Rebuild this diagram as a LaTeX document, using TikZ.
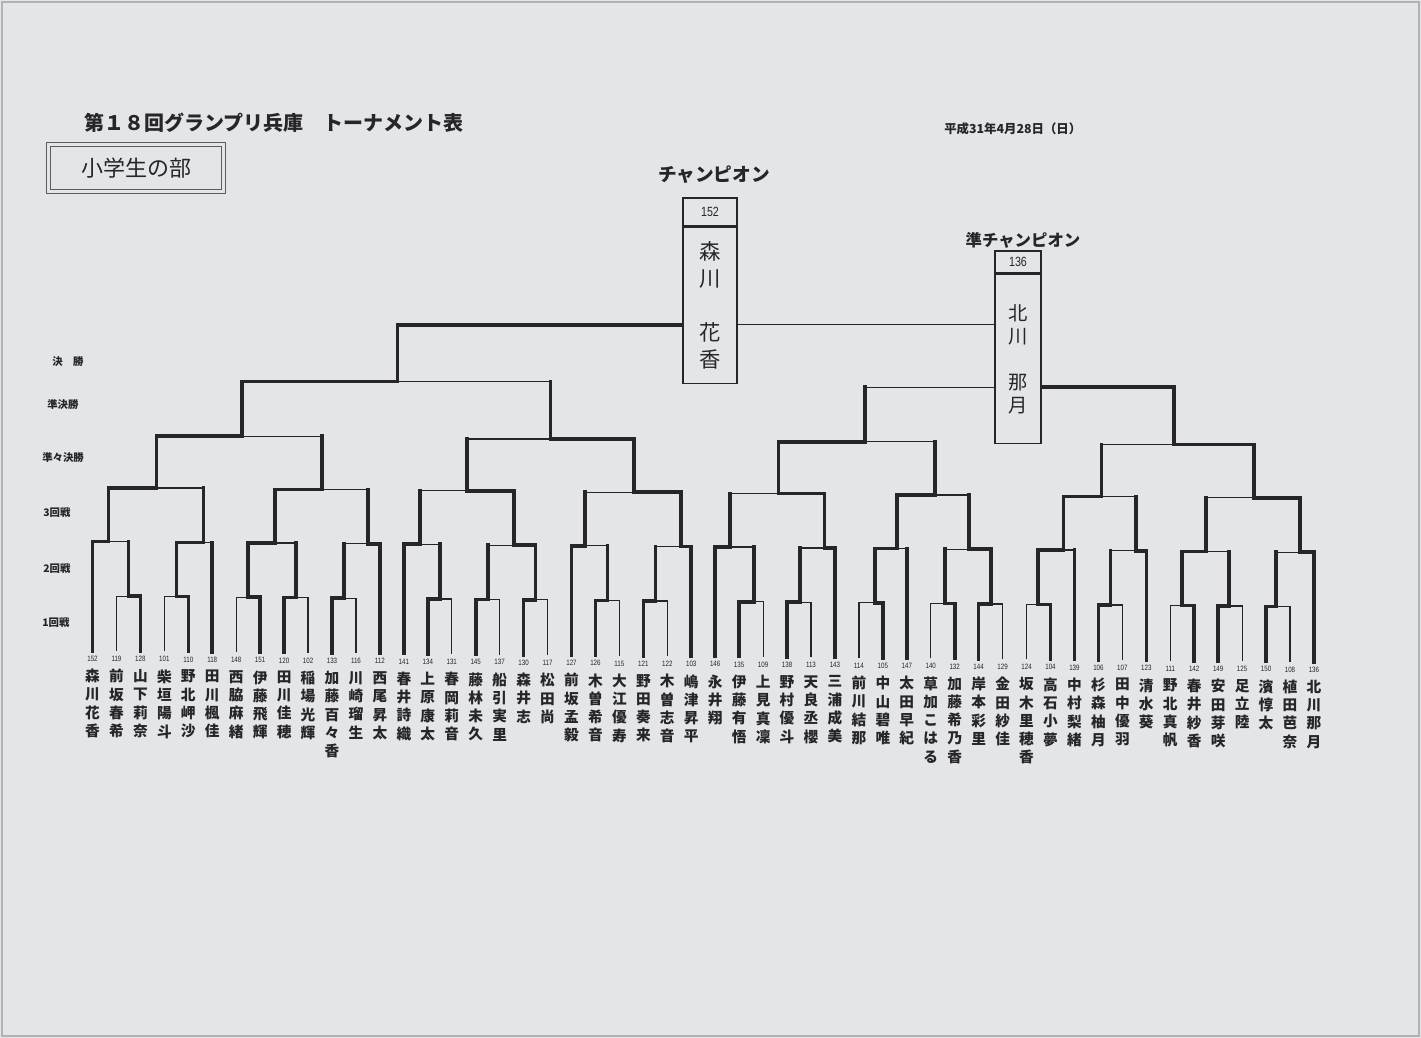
\documentclass[tikz,border=0pt]{standalone}
\usepackage{fontspec}
\setmainfont{Liberation Sans}
\newfontfamily\jp{Noto Sans CJK JP}
\newfontfamily\numfont[FakeStretch=0.8]{Liberation Sans}
\definecolor{paper}{RGB}{227,229,233}
\definecolor{ink}{RGB}{38,38,42}
\tikzset{
  thk/.style={draw=ink, line width=2.7pt, line cap=rect},
  thn/.style={draw=ink, line width=0.9pt},
  numsty/.style={font=\numfont\fontsize{5.8}{6}\selectfont, text=ink, inner sep=0pt},
  namesty/.style={font=\jp\bfseries\fontsize{11}{13.7}\selectfont, text=ink, inner sep=0pt, align=center},
  cellsty/.style={draw=ink, line width=0.9pt, fill=paper, inner sep=0pt, align=center, text=ink},
  lblsty/.style={font=\jp\bfseries\fontsize{7.8}{8}\selectfont, text=ink, inner sep=0pt, anchor=west},
}
\newcommand\edgeW[2]{\draw[thk] (#1) |- (#2);}
\newcommand\edgeLM[2]{\draw[thk] (#1) -- (#1 |- #2); \draw[thn] (#1 |- #2) -- (#2);}
\newcommand\edgeLL[2]{\draw[thn] (#1) |- (#2);}
\newcommand\match[6]{%
  \coordinate (#1) at (#2,{#3+0.009*#2});
  \edgeW{#4}{#1}
  \if#6M\edgeLM{#5}{#1}\else\edgeLL{#5}{#1}\fi
}
\def\lA{595}\def\lB{540.5}\def\lC{486.5}\def\lD{434}\def\lE{378}\def\lF{318.5}
\begin{document}
\begin{tikzpicture}[x=0.75pt,y=-0.75pt]
\useasboundingbox (0,0) rectangle (1421,1038);
\fill[paper] (0,0) rectangle (1421,1038);
\draw[gray!60, line width=1pt] (2,2) rectangle (1419,1036);

% header
\node[anchor=west, font=\jp\bfseries\fontsize{15}{15}\selectfont, text=ink, inner sep=0pt] (title) at (84,123) {第１８回グランプリ兵庫　トーナメント表};
\node[anchor=west, font=\jp\bfseries\fontsize{9.3}{9.3}\selectfont, text=ink, inner sep=0pt] (date) at (944,129) {平成31年4月28日（日）};
\node[draw=ink!75, line width=0.8pt, double=paper, double distance=2pt, fill=paper, minimum width=131pt, minimum height=35.5pt, inner sep=0pt, font=\jp\fontsize{16.5}{16.5}\selectfont, text=ink] (dept) at (136,168) {小学生の部};

% round labels
\node[lblsty] (rF) at (52,362) {決　勝};
\node[lblsty] (rE) at (47,405) {準決勝};
\node[lblsty] (rD) at (42,458) {準々決勝};
\node[lblsty] (rC) at (43,513) {3回戦};
\node[lblsty] (rB) at (43,569) {2回戦};
\node[lblsty] (rA) at (42,623) {1回戦};

% players
\foreach \nb/\nm [count=\i from 0] in {
152/森\\川\\花\\香, 119/前\\坂\\春\\希, 128/山\\下\\莉\\奈, 101/柴\\垣\\陽\\斗,
110/野\\北\\岬\\沙, 118/田\\川\\楓\\佳, 148/西\\脇\\麻\\緒, 151/伊\\藤\\飛\\輝,
120/田\\川\\佳\\穂, 102/稲\\場\\光\\輝, 133/加\\藤\\百\\々\\香, 116/川\\崎\\瑠\\生,
112/西\\尾\\昇\\太, 141/春\\井\\詩\\織, 134/上\\原\\康\\太, 131/春\\岡\\莉\\音,
145/藤\\林\\未\\久, 137/船\\引\\実\\里, 130/森\\井\\志, 117/松\\田\\尚,
127/前\\坂\\孟\\毅, 126/木\\曽\\希\\音, 115/大\\江\\優\\寿, 121/野\\田\\奏\\来,
122/木\\曽\\志\\音, 103/嶋\\津\\昇\\平, 146/永\\井\\翔, 135/伊\\藤\\有\\悟,
109/上\\見\\真\\凜, 138/野\\村\\優\\斗, 113/天\\良\\丞\\櫻, 143/三\\浦\\成\\美,
114/前\\川\\結\\那, 105/中\\山\\碧\\唯, 147/太\\田\\早\\紀, 140/草\\加\\こ\\は\\る,
132/加\\藤\\希\\乃\\香, 144/岸\\本\\彩\\里, 129/金\\田\\紗\\佳, 124/坂\\木\\里\\穂\\香,
104/高\\石\\小\\夢, 139/中\\村\\梨\\緒, 106/杉\\森\\柚\\月, 107/田\\中\\優\\羽,
123/清\\水\\葵, 111/野\\北\\真\\帆, 142/春\\井\\紗\\香, 149/安\\田\\芽\\咲,
125/足\\立\\陸, 150/濱\\惇\\太, 108/植\\田\\芭\\奈, 136/北\\川\\那\\月}
{
  \pgfmathsetmacro\xx{92.5+23.95*\i}
  \coordinate (p\nb) at (\xx,{650+0.009*\xx});
  \node[numsty] (n\nb) at (\xx,{657.8+0.009*\xx}) {\nb};
  \node[namesty, anchor=north] (t\nb) at (\xx,{668+0.009*\xx}) {\nm};
}

% left half
\match{a1}{128.4}{\lA}{p128}{p119}{L}
\match{a2}{176.3}{\lA}{p110}{p101}{L}
\match{a3}{248.2}{\lA}{p151}{p148}{L}
\match{a4}{296.1}{\lA}{p120}{p102}{L}
\match{a5}{344}{\lA}{p133}{p116}{L}
\match{a6}{439.8}{\lA}{p134}{p131}{L}
\match{a7}{487.7}{\lA}{p145}{p137}{L}
\match{a8}{535.6}{\lA}{p130}{p117}{L}
\match{a9}{607.4}{\lA}{p126}{p115}{L}
\match{a10}{655.3}{\lA}{p121}{p122}{L}
\match{b1}{108.5}{\lB}{p152}{a1}{M}
\match{b2}{203.6}{\lB}{a2}{p118}{M}
\match{b3}{275}{\lB}{a3}{a4}{M}
\match{b4}{368}{\lB}{p112}{a5}{M}
\match{b5}{420}{\lB}{p141}{a6}{M}
\match{b6}{514}{\lB}{a8}{a7}{M}
\match{b7}{585}{\lB}{p127}{a9}{M}
\match{b8}{681}{\lB}{p103}{a10}{M}
\match{c1}{156.6}{\lC}{b1}{b2}{M}
\match{c2}{322}{\lC}{b3}{b4}{M}
\match{c3}{467}{\lC}{b6}{b5}{M}
\match{c4}{634}{\lC}{b8}{b7}{M}
\match{d1}{242}{\lD}{c1}{c2}{M}
\match{d2}{550.5}{\lD}{c4}{c3}{M}
\match{e1}{397.4}{\lE}{d1}{d2}{M}

% right half
\match{r1}{754}{\lA}{p135}{p109}{L}
\match{r2}{800}{\lA}{p138}{p113}{L}
\match{r3}{874.7}{\lA}{p105}{p114}{L}
\match{r4}{945}{\lA}{p132}{p140}{L}
\match{r5}{991}{\lA}{p144}{p129}{L}
\match{r6}{1038}{\lA}{p104}{p124}{L}
\match{r7}{1110.4}{\lA}{p106}{p107}{L}
\match{r8}{1182}{\lA}{p142}{p111}{L}
\match{r9}{1229}{\lA}{p149}{p125}{L}
\match{r10}{1276}{\lA}{p150}{p108}{L}
\match{s1}{730}{\lB}{p146}{r1}{M}
\match{s2}{824.5}{\lB}{p143}{r2}{M}
\match{s3}{896.8}{\lB}{r3}{p147}{M}
\match{s4}{969}{\lB}{r5}{r4}{M}
\match{s5}{1063.5}{\lB}{r6}{p139}{M}
\match{s6}{1135.7}{\lB}{p123}{r7}{M}
\match{s7}{1206}{\lB}{r8}{r9}{M}
\match{s8}{1300}{\lB}{p136}{r10}{M}
\match{u1}{778.3}{\lC}{s2}{s1}{M}
\match{u2}{935}{\lC}{s3}{s4}{M}
\match{u3}{1101.6}{\lC}{s5}{s6}{M}
\match{u4}{1254}{\lC}{s8}{s7}{M}
\match{v1}{864.7}{\lD}{u1}{u2}{M}
\match{v2}{1174}{\lD}{u4}{u3}{M}
\match{e2}{1018}{\lE}{v2}{v1}{M}

% champion and runner-up
\node[font=\jp\bfseries\fontsize{14}{14}\selectfont, text=ink, inner sep=0pt] (chlbl) at (714,175) {チャンピオン};
\node[cellsty, minimum width=40.5pt, minimum height=21pt, font=\numfont\fontsize{10}{10}\selectfont] (cnum) at (710,212) {152};
\node[cellsty, minimum width=40.5pt, minimum height=117.5pt, anchor=north, font=\jp\fontsize{16}{20.25}\selectfont] (cname) at (cnum.south) {森\\川\\[20.25pt]花\\香};
\node[font=\jp\bfseries\fontsize{12.3}{13}\selectfont, text=ink, inner sep=0pt] (rulbl) at (1023,240) {準チャンピオン};
\node[cellsty, minimum width=34.5pt, minimum height=16.5pt, font=\numfont\fontsize{10}{10}\selectfont] (rnum) at (1018,262) {136};
\node[cellsty, minimum width=34.5pt, minimum height=127pt, anchor=north, font=\jp\fontsize{14.5}{17.25}\selectfont] (rname) at (rnum.south) {北\\川\\[17.25pt]那\\月};
\coordinate (F) at (710,{\lF+0.009*710});
\draw[thk] (e1) |- (cname.west |- F);
\draw[thn] (cname.east |- F) -- (rname.west |- F);
\end{tikzpicture}
\end{document}
